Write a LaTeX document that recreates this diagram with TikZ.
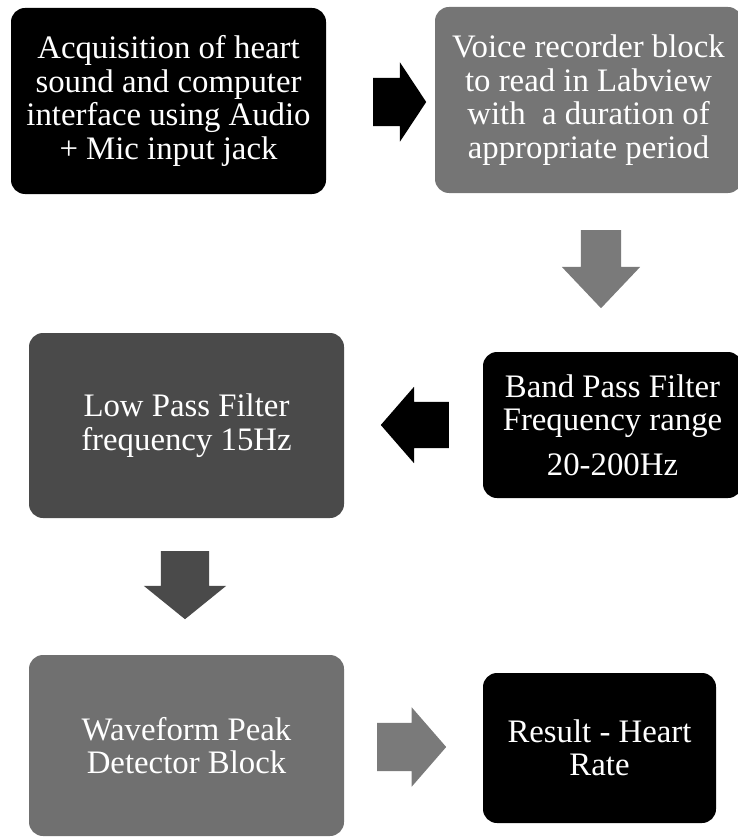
\documentclass[tikz,border=0pt]{standalone}
\usepackage{fontspec}
\setmainfont{Liberation Serif}
\usepackage{tikz}
\usetikzlibrary{shapes.arrows}
\usepackage{xcolor}

\definecolor{midgray}{gray}{0.46}
\definecolor{darkgray}{gray}{0.29}
\definecolor{peakgray}{gray}{0.44}
\definecolor{arrowgray}{gray}{0.48}

\tikzset{
  block/.style={rounded corners=14pt, text=white, align=center, inner sep=0pt,
    font=\fontsize{32.8}{33.5}\selectfont},
  bigarrow/.style={single arrow, inner xsep=0pt, anchor=tail,
    single arrow head indent=0pt}
}

\begin{document}
\begin{tikzpicture}[x=1pt,y=-1pt]
    \useasboundingbox (0,0) rectangle (738,837);
    % blocks
    \node[block, fill=black, minimum width=315pt, minimum height=186pt] (acq) at (168.5,101)
      {Acquisition of heart\\sound and computer\\interface using Audio\\+ Mic input jack};
    \node[block, fill=midgray, minimum width=307pt, minimum height=186pt] (rec) at (588.5,100)
      {Voice recorder block\\to read in Labview\\with~ a duration of\\appropriate period};
    \node[block, fill=black, minimum width=259pt, minimum height=146pt] (bpf) at (612.5,425)
      {Band Pass Filter\\Frequency range\\[11pt]20-200Hz};
    \node[block, fill=darkgray, minimum width=315pt, minimum height=185pt] (lpf) at (186.5,425.5)
      {Low Pass Filter\\frequency 15Hz};
    \node[block, fill=peakgray, minimum width=315pt, minimum height=181pt] (peak) at (186.5,745.5)
      {Waveform Peak\\Detector Block};
    \node[block, fill=black, minimum width=233pt, minimum height=150pt] (result) at (599.5,748)
      {Result - Heart\\Rate};
    % block arrows
    \node[bigarrow, fill=black, minimum height=53pt, inner ysep=24pt,
      single arrow head extend=15.5pt, single arrow tip angle=113] (a1) at (373,102) {};
    \node[bigarrow, fill=arrowgray, rotate=-90, minimum height=78pt, inner ysep=20pt,
      single arrow head extend=19pt, single arrow tip angle=87] (a2) at (601,230) {};
    \node[bigarrow, fill=black, rotate=180, minimum height=68pt, inner ysep=23pt,
      single arrow head extend=15pt, single arrow tip angle=98] (a3) at (449,425) {};
    \node[bigarrow, fill=darkgray, rotate=-90, minimum height=68pt, inner ysep=24pt,
      single arrow head extend=17pt, single arrow tip angle=102] (a4) at (185,551) {};
    \node[bigarrow, fill=arrowgray, minimum height=69pt, inner ysep=24pt,
      single arrow head extend=15.5pt, single arrow tip angle=98] (a5) at (377,747) {};
\end{tikzpicture}
\end{document}
